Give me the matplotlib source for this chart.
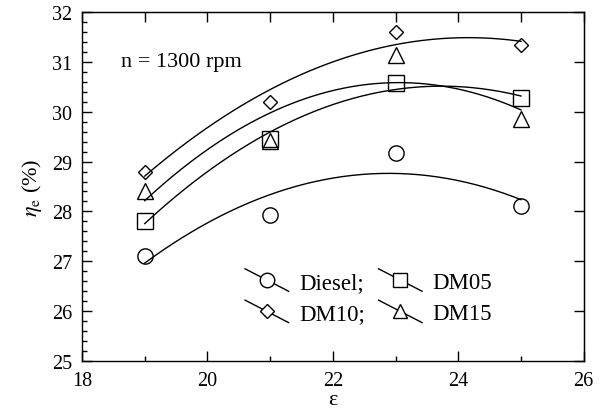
import numpy as np
import matplotlib
matplotlib.use("Agg")
from matplotlib import pyplot as plt
from matplotlib.lines import Line2D
from matplotlib.legend_handler import HandlerLine2D

plt.rcParams['font.family'] = ['Liberation Serif', 'DejaVu Serif']
plt.rcParams['mathtext.fontset'] = 'stix'

# compression ratio
eps = [19, 21, 23, 25]

# effective efficiency (%)
diesel = [27.10, 27.93, 29.17, 28.10]
dm05 = [27.80, 29.46, 30.58, 30.27]
dm10 = [28.79, 30.20, 31.59, 31.33]
dm15 = [28.40, 29.42, 31.14, 29.85]

labels = ['Diesel;', 'DM10;', 'DM05', 'DM15']
series = [diesel, dm10, dm05, dm15]
markers = ['o', 'D', 's', '^']
msizes = [11, 7.5, 11, 11]


class SlopedHandler(HandlerLine2D):
    # legend handle: a sloping line through the marker
    def create_artists(self, legend, orig_handle, xdescent, ydescent,
                       width, height, fontsize, trans):
        x0 = -xdescent
        x1 = width - xdescent
        ym = height / 2 - ydescent
        ln = Line2D([x0, x1], [ym + 0.7 * height, ym - 0.7 * height],
                    color='black', lw=1.0)
        mk = Line2D([(x0 + x1) / 2], [ym], marker=orig_handle.get_marker(),
                    ms=orig_handle.get_markersize() * 0.95, mfc='white',
                    mec='black', mew=1.0, ls='none')
        ln.set_transform(trans)
        mk.set_transform(trans)
        return [ln, mk]


fig = plt.figure(figsize=(6.03, 4.14), dpi=100)
ax = fig.add_axes([0.136, 0.1256, 0.832, 0.843])

xs = np.linspace(19, 25, 200)
handles = []
for y, m, ms, lab in zip(series, markers, msizes, labels):
    p = np.polyfit(eps, y, 2)
    ax.plot(xs, np.polyval(p, xs), color='black', lw=1.0)
    ax.plot(eps, y, ls='none', marker=m, ms=ms, mfc='none', mec='black', mew=1.0)
    handles.append(Line2D([], [], marker=m, ms=ms, color='black', label=lab))

ax.set_xlim(18, 26)
ax.set_ylim(25, 32)
ax.set_xticks([18, 20, 22, 24, 26])
ax.set_xticks([19, 21, 23, 25], minor=True)
ax.set_yticks(range(25, 33))
ax.set_yticks(np.arange(25, 32.01, 0.2), minor=True)
ax.tick_params(which='major', direction='in', length=7, width=1.0, labelsize=14.5, pad=7)
ax.tick_params(which='minor', direction='in', length=3.5, width=1.0)
for s in ax.spines.values():
    s.set_linewidth(1.0)

top = ax.secondary_xaxis('top')
top.set_xticks(range(18, 27))
top.tick_params(direction='in', length=7, width=1.0, labeltop=False)
right = ax.secondary_yaxis('right')
right.set_yticks(range(25, 33))
right.tick_params(direction='in', length=7, width=1.0, labelright=False)

ax.set_xlabel('ε', fontsize=16, labelpad=0)
ax.set_ylabel(r'$\eta_\mathrm{e}$ (%)', fontsize=16, labelpad=6)

ax.text(18.62, 31.0, 'n = 1300 rpm', fontsize=16, va='center', ha='left')

ax.legend(handles=handles, ncol=2, loc='upper left',
          bbox_to_anchor=(0.325, 0.255), frameon=False, fontsize=16.5,
          handler_map={Line2D: SlopedHandler()}, handlelength=1.9,
          handletextpad=0.45, columnspacing=0.6, labelspacing=0.45,
          borderpad=0.0, borderaxespad=0.0)

plt.savefig('out.png', dpi=100)
plt.close()
